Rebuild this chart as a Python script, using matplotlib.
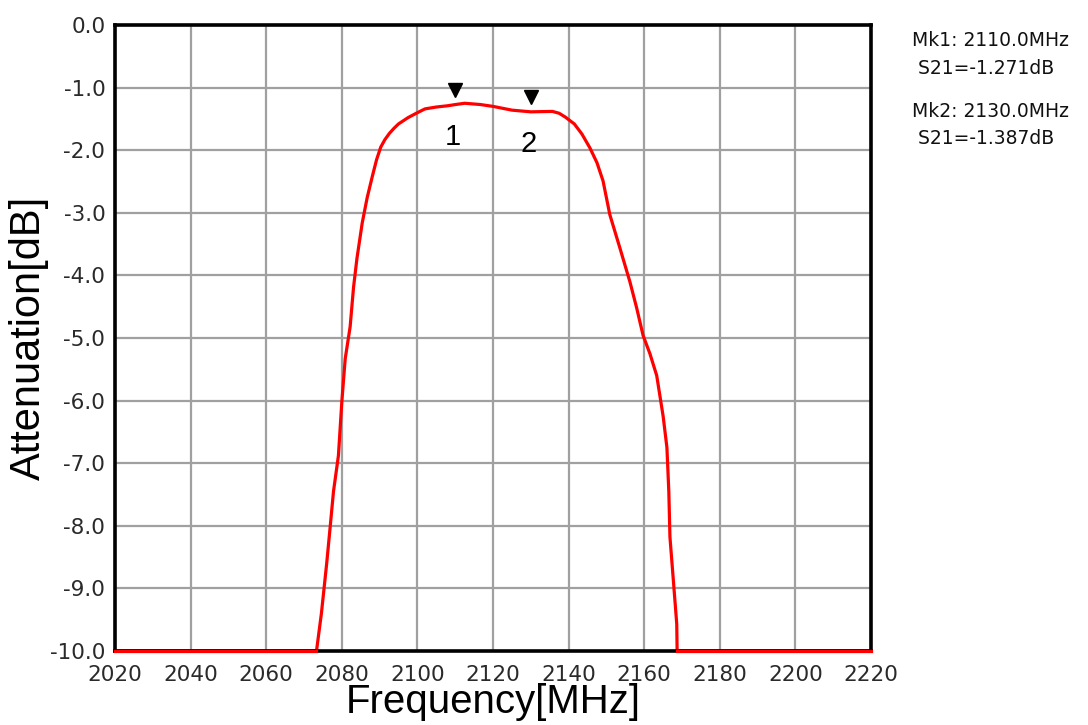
import numpy as np
import matplotlib.pyplot as plt

plt.rcParams['font.family'] = ['Liberation Sans', 'DejaVu Sans']

# S21 trace
freq = [2020, 2073.3, 2074.6, 2076.0, 2076.9, 2077.8, 2079.1, 2080.0, 2080.9,
        2082.2, 2083.1, 2084.0, 2085.4, 2086.7, 2088.1, 2089.2, 2090.3, 2091.4,
        2092.6, 2093.8, 2095.0, 2097.5, 2100.0, 2102.0, 2105.0, 2108.0, 2110.0,
        2112.5, 2116.6, 2120.0, 2125.0, 2130.0, 2135.7, 2137.5, 2139.1, 2141.5,
        2143.5, 2145.6, 2147.5, 2149.1, 2150.9, 2153.6, 2156.2, 2158.0, 2159.7,
        2161.5, 2163.3, 2165.0, 2166.0, 2166.5, 2166.8, 2167.7, 2168.6, 2168.7,
        2220]
atten = [-10, -10, -9.40, -8.60, -8.03, -7.45, -6.88, -6.02, -5.33,
         -4.82, -4.19, -3.73, -3.16, -2.76, -2.41, -2.15, -1.95, -1.83,
         -1.73, -1.65, -1.58, -1.48, -1.40, -1.34, -1.31, -1.29, -1.271,
         -1.25, -1.27, -1.30, -1.36, -1.387, -1.38, -1.41, -1.47, -1.58,
         -1.74, -1.96, -2.20, -2.49, -3.03, -3.57, -4.10, -4.52, -4.96,
         -5.25, -5.60, -6.25, -6.75, -7.45, -8.18, -8.87, -9.57, -10,
         -10]

mk_freq = [2110.0, 2130.0]
mk_val = [-1.271, -1.387]
mk_names = ["1", "2"]
mk_text = ["Mk1: 2110.0MHz\n S21=-1.271dB", "Mk2: 2130.0MHz\n S21=-1.387dB"]

xticks = np.arange(2020, 2221, 20)
yticks = np.arange(0, -10.1, -1)

fig = plt.figure(figsize=(10.88, 7.25), dpi=100)
ax = fig.add_axes([0.1057, 0.1021, 0.6949, 0.8634])

f = np.array(freq)
a = np.array(atten)
ax.plot(f, a, color='#ff0000', lw=2.3, zorder=2)
# stop-band part is drawn over the bottom spine
low = a <= -10
left = f <= f[low][1]
right = f >= f[low][-2]
ax.plot(f[left & low], a[left & low], color='#ff0000', lw=2.3, zorder=5, clip_on=False)
ax.plot(f[right & low], a[right & low], color='#ff0000', lw=2.3, zorder=5, clip_on=False)

for x, y, n in zip(mk_freq, mk_val, mk_names):
    ax.plot(x, y + 0.24, marker='v', color='black', ms=10, zorder=6)
    ax.text(x - 0.6, y - 0.52, n, fontsize=21, ha='center', va='center', color='black')

ax.set_xlim(2020, 2220)
ax.set_ylim(-10, 0)
ax.set_xticks(xticks)
ax.set_yticks(yticks)
ax.set_yticklabels(["%.1f" % v for v in yticks])
ax.grid(True, color='#a0a0a0', lw=1.6)
ax.set_axisbelow(True)
ax.tick_params(length=0, labelsize=15.5, labelcolor='#2a2a2a', pad=7)
for lab in ax.get_xticklabels() + ax.get_yticklabels():
    lab.set_family('DejaVu Sans')
ax.tick_params(axis='x', pad=10)
for s in ax.spines.values():
    s.set_linewidth(2.6)
    s.set_color('black')
    s.set_zorder(4)

ax.set_xlabel("Frequency[MHz]", fontsize=29, labelpad=-1)
ax.set_ylabel("Attenuation[dB]", fontsize=30, labelpad=1)

fig.text(0.838, 0.925, mk_text[0], fontsize=13.5, family='DejaVu Sans', ha='left', va='center',
         color='#111111', linespacing=1.55)
fig.text(0.838, 0.828, mk_text[1], fontsize=13.5, family='DejaVu Sans', ha='left', va='center',
         color='#111111', linespacing=1.55)

fig.savefig("out.png", dpi=100, facecolor='white')
